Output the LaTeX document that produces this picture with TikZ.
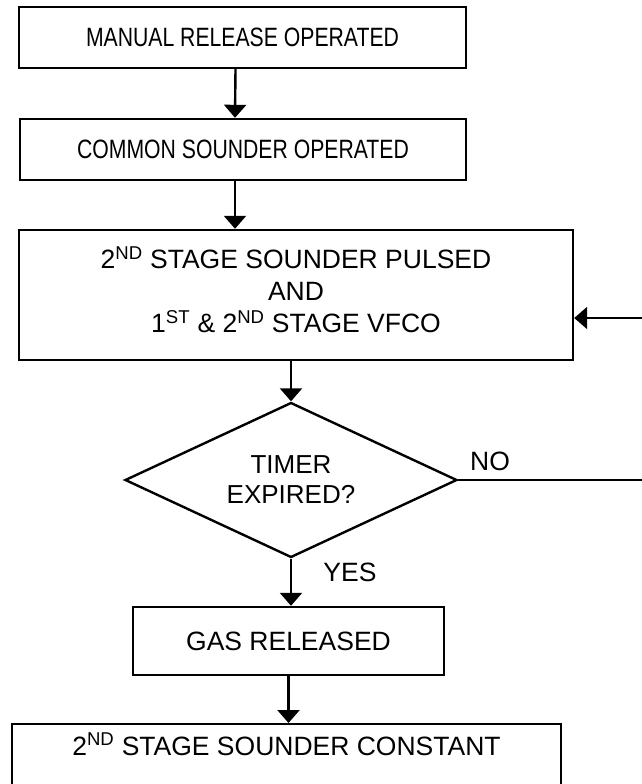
\documentclass[tikz,border=0pt]{standalone}
\usepackage{fontspec}
\setmainfont{Liberation Sans}
\newfontfamily\narrowfont{Liberation Sans}[FakeStretch=0.8]
\usetikzlibrary{shapes.geometric, arrows.meta}

\begin{document}
\begin{tikzpicture}[x=1pt,y=-1pt,
  font=\fontsize{26.5}{32}\selectfont,
  box/.style={draw=black, line width=2.4pt, rectangle, align=center, inner sep=0pt},
  decision/.style={draw=black, line width=2.4pt, diamond, aspect=2.14, align=center, inner sep=0pt, minimum width=332pt, minimum height=155pt},
  flow/.style={line width=2.4pt, -{Triangle[length=13pt, width=22pt]}}]
\useasboundingbox (0,0) rectangle (642,784);
\clip (0,0) rectangle (642,784);
\node[box, minimum width=447pt, minimum height=61pt, font=\narrowfont\fontsize{26.5}{32}\selectfont] (release) at (242.5,37.5) {MANUAL RELEASE OPERATED};
\node[box, minimum width=446pt, minimum height=61pt, font=\narrowfont\fontsize{26.5}{32}\selectfont] (sounder) at (243,149.5) {COMMON SOUNDER OPERATED};
\node[box, minimum width=554pt, minimum height=130pt, text depth=11pt] (stage) at (296,295) {2\textsuperscript{ND} STAGE SOUNDER PULSED\\AND\\1\textsuperscript{ST} \& 2\textsuperscript{ND} STAGE VFCO};
\node[decision, font=\fontsize{26}{30}\selectfont] (timer) at (291,480) {TIMER\\EXPIRED?};
\node[box, minimum width=311pt, minimum height=68pt] (gas) at (288.5,641) {GAS RELEASED};
\node[box, minimum width=549pt, inner ysep=9pt, text depth=70pt, anchor=north] (constant) at (286.5,723) {2\textsuperscript{ND} STAGE SOUNDER CONSTANT};
\node (no) at (490,461) {NO};
\node (yes) at (350,572) {YES};
\coordinate (turn) at (652,480);
\coordinate (back) at (652,318);
% main flow
\draw[flow] ([xshift=-7pt]release.south) -- ([xshift=-8pt]sounder.north);
\draw[flow] ([xshift=-8pt]sounder.south) -- ([xshift=-61pt]stage.north);
\draw[flow] (stage.south -| timer.north) -- (timer.north);
\draw[flow] (timer.south) -- (gas.north -| timer.south);
\draw[flow] (gas.south) -- (constant.north -| gas.south);
% loop back when timer not expired
\draw[flow] (timer.east) -- (turn) -- (back) -- (stage.east |- back);
\end{tikzpicture}
\end{document}
